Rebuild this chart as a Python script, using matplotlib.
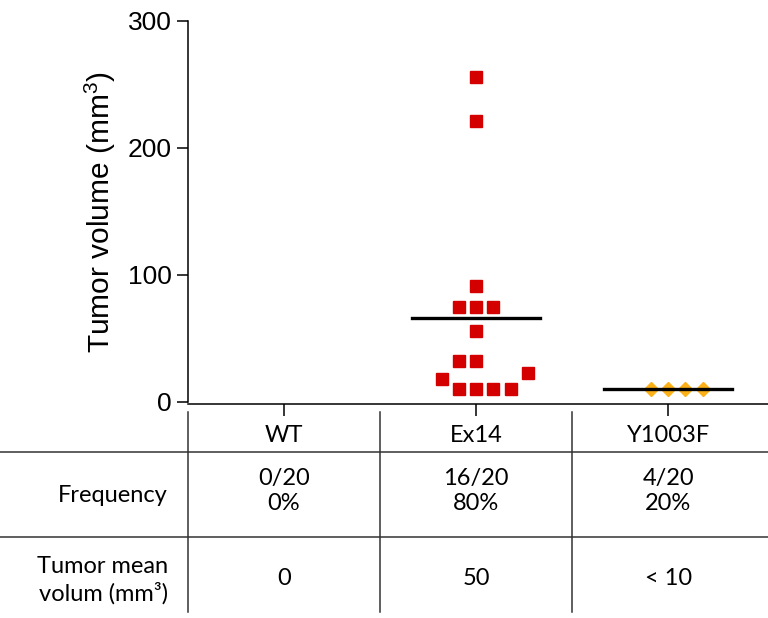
import matplotlib
matplotlib.use("Agg")
import matplotlib.pyplot as plt
import matplotlib.transforms as mtransforms
from matplotlib.lines import Line2D
import numpy as np

# Data
groups = ["WT", "Ex14", "Y1003F"]
ex14_values = [256, 221, 91, 75, 75, 75, 56, 32, 32, 23, 18, 10, 10, 10, 10]
ex14_slots = [0, 0, 0, -1, 0, 1, 0, -1, 0, 3, -2, -1, 0, 1, 2]
y1003f_values = [10, 10, 10, 10]
y1003f_slots = [-1, 0, 1, 2]
frequency = ["0/20\n0%", "16/20\n80%", "4/20\n20%"]
mean_volume = ["0", "50", "< 10"]
yticks = [0, 100, 200, 300]

plt.rcParams["font.family"] = ["Liberation Sans", "DejaVu Sans"]
plt.rcParams["mathtext.default"] = "regular"

fig = plt.figure(figsize=(7.68, 6.18), dpi=100)
ax = fig.add_axes([188 / 768, 214 / 618, 580 / 768, 383 / 618])

step = 0.09
ex_x = 1 + np.array(ex14_slots) * step
y_x = 2 + np.array(y1003f_slots) * step
ax.plot(ex_x, ex14_values, "s", color="#D40000", markersize=9, linestyle="none", zorder=3)
ax.plot(y_x, y1003f_values, "D", color="#FBB117", markersize=7.5, linestyle="none", zorder=3)

# mean lines
for i, vals in [(1, ex14_values), (2, y1003f_values)]:
    ax.plot([i - 0.333, i + 0.333], [np.mean(vals)] * 2, color="black", lw=2.4, zorder=4)

ax.set_xlim(-0.5, 2.52)
ax.set_ylim(-1.6, 300)
ax.set_yticks(yticks)
ax.set_xticks(range(len(groups)))
ax.set_xticklabels([])
ax.tick_params(axis="y", labelsize=19, length=8, width=1.1, pad=3.5)
ax.tick_params(axis="x", length=8.5, width=1.1)
for s in ["top", "right"]:
    ax.spines[s].set_visible(False)
ax.spines["left"].set_linewidth(1.1)
ax.spines["bottom"].set_linewidth(1.1)
ax.spines["left"].set_bounds(0, 300)
ax.set_ylabel("Tumor volume (mm$^{3}$)", fontsize=21.5, labelpad=7)

# table below the axis
tf = ["Lato", "DejaVu Sans"]
blend = mtransforms.blended_transform_factory(ax.transData, fig.transFigure)
line_color = "#333333"
for xb in [-0.5, 0.5, 1.5]:
    fig.add_artist(Line2D([xb, xb], [0.3333, 0.0097], transform=blend, color=line_color, lw=1.1))
for yb in [0.2686, 0.1311]:
    fig.add_artist(Line2D([0, 1], [yb, yb], transform=fig.transFigure, color=line_color, lw=1.1))

for i, g in enumerate(groups):
    fig.text(i, 0.2945, g, transform=blend, ha="center", va="center", fontsize=17, family=tf)
    fig.text(i, 0.2055, frequency[i], transform=blend, ha="center", va="center",
             fontsize=17, family=tf, linespacing=1.25)
    fig.text(i, 0.0647, mean_volume[i], transform=blend, ha="center", va="center",
             fontsize=17, family=tf)

fig.text(168 / 768, 0.1990, "Frequency", ha="right", va="center", fontsize=17, family=tf)
fig.text(168 / 768, 0.0610, "Tumor mean\nvolum (mm³)", ha="right", va="center",
         fontsize=17, family=tf, multialignment="right", linespacing=1.25)

fig.savefig("out.png", dpi=100)
